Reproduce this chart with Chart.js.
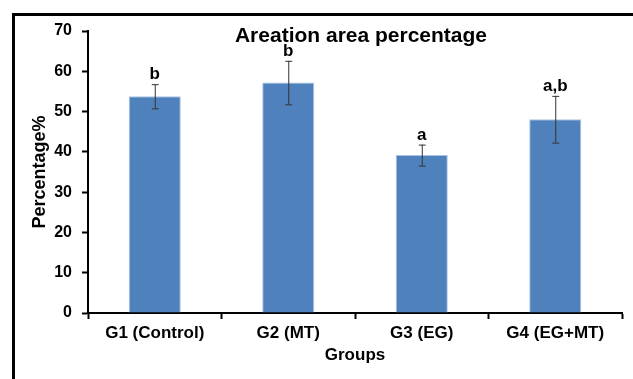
<!DOCTYPE html>
<html>
<head>
<meta charset="utf-8">
<script src="https://cdn.jsdelivr.net/npm/chart.js@4.4.0/dist/chart.umd.min.js"></script>
<style>
    html, body { margin: 0; padding: 0; background: #fff; overflow: hidden; }
    #marco { position: absolute; left: 12px; top: 13px; width: 800px; height: 500px; border: 3px solid #000; }
    #grafica { position: absolute; left: 0; top: 0; }
</style>
</head>
<body>
<div id="marco"></div>
<canvas id="grafica" width="633" height="379"></canvas>
<script>
// Datos
const grupos = ['G1 (Control)', 'G2 (MT)', 'G3 (EG)', 'G4 (EG+MT)'];
const medias = [53.8, 57.2, 39.2, 48.1];
const desviaciones = [3.0, 5.4, 2.6, 5.8];
const letras = ['b', 'b', 'a', 'a,b'];
const tituloGrafica = 'Areation area percentage';

const fuente = '"Liberation Sans", Arial, sans-serif';

// Barras de error + letras de significancia
const pluginErrores = {
    id: 'errores',
    afterDatasetsDraw(chart) {
        const ctx = chart.ctx;
        const yEje = chart.scales.y;
        const meta = chart.getDatasetMeta(0);
        ctx.save();
        meta.data.forEach((barra, i) => {
            const x = barra.x;
            const yArriba = yEje.getPixelForValue(medias[i] + desviaciones[i]);
            const yAbajo = yEje.getPixelForValue(medias[i] - desviaciones[i]);
            ctx.strokeStyle = '#333';
            ctx.lineWidth = 1;
            ctx.beginPath();
            ctx.moveTo(x + 0.5, yArriba);
            ctx.lineTo(x + 0.5, yAbajo);
            ctx.moveTo(x - 3, yArriba + 0.5);
            ctx.lineTo(x + 4, yArriba + 0.5);
            ctx.moveTo(x - 3, yAbajo + 0.5);
            ctx.lineTo(x + 4, yAbajo + 0.5);
            ctx.stroke();

            ctx.fillStyle = '#000';
            ctx.font = 'bold 17px ' + fuente;
            ctx.textAlign = 'center';
            ctx.textBaseline = 'alphabetic';
            ctx.fillText(letras[i], x, yArriba - 5);
        });
        ctx.restore();
    }
};

// Titulo dibujado dentro del area (se solapa con la parte alta del eje)
const pluginTitulo = {
    id: 'tituloDentro',
    afterDraw(chart) {
        const ctx = chart.ctx;
        const area = chart.chartArea;
        ctx.save();
        ctx.fillStyle = '#000';
        ctx.font = 'bold 21px ' + fuente;
        ctx.textAlign = 'center';
        ctx.textBaseline = 'alphabetic';
        ctx.fillText(tituloGrafica, (area.left + area.right) / 2 + 6, area.top + 11);
        ctx.restore();
    }
};

const ctxGrafica = document.getElementById('grafica').getContext('2d');
new Chart(ctxGrafica, {
    type: 'bar',
    data: {
        labels: grupos,
        datasets: [{
            label: 'Percentage%', data: medias,
            backgroundColor: '#4F81BD', borderColor: '#A9C3E3',
            borderWidth: 1, borderSkipped: 'bottom',
            categoryPercentage: 1, barPercentage: 0.39
        }]
    },
    options: {
        responsive: false, animation: false,
        layout: { padding: { top: 31, right: 11, left: 0, bottom: 0 } },
        plugins: { legend: { display: false }, tooltip: { enabled: false } },
        scales: {
            x: {
                afterFit: (escala) => { escala.height = 66; },
                border: { color: '#000', width: 2 },
                grid: { drawOnChartArea: false, drawTicks: true, tickLength: 6, color: '#000', tickWidth: 2, offset: true },
                ticks: { color: '#000', padding: 4, font: { family: fuente, size: 17, weight: 'bold' } },
                title: {
                    display: true, text: 'Groups', color: '#000',
                    padding: { top: 0, bottom: 13 },
                    font: { family: fuente, size: 17, weight: 'bold' }
                }
            },
            y: {
                min: 0, max: 70,
                afterFit: (escala) => { escala.width = 88; },
                border: { color: '#000', width: 2 },
                grid: { drawOnChartArea: false, drawTicks: true, tickLength: 6, color: '#000', tickWidth: 2 },
                ticks: { stepSize: 10, color: '#000', padding: 10, font: { family: fuente, size: 16, weight: 'bold' } },
                title: {
                    display: true, text: 'Percentage%', color: '#000',
                    padding: { top: 29, bottom: 0 },
                    font: { family: fuente, size: 18, weight: 'bold' }
                }
            }
        }
    },
    plugins: [pluginErrores, pluginTitulo]
});
</script>
</body>
</html>
